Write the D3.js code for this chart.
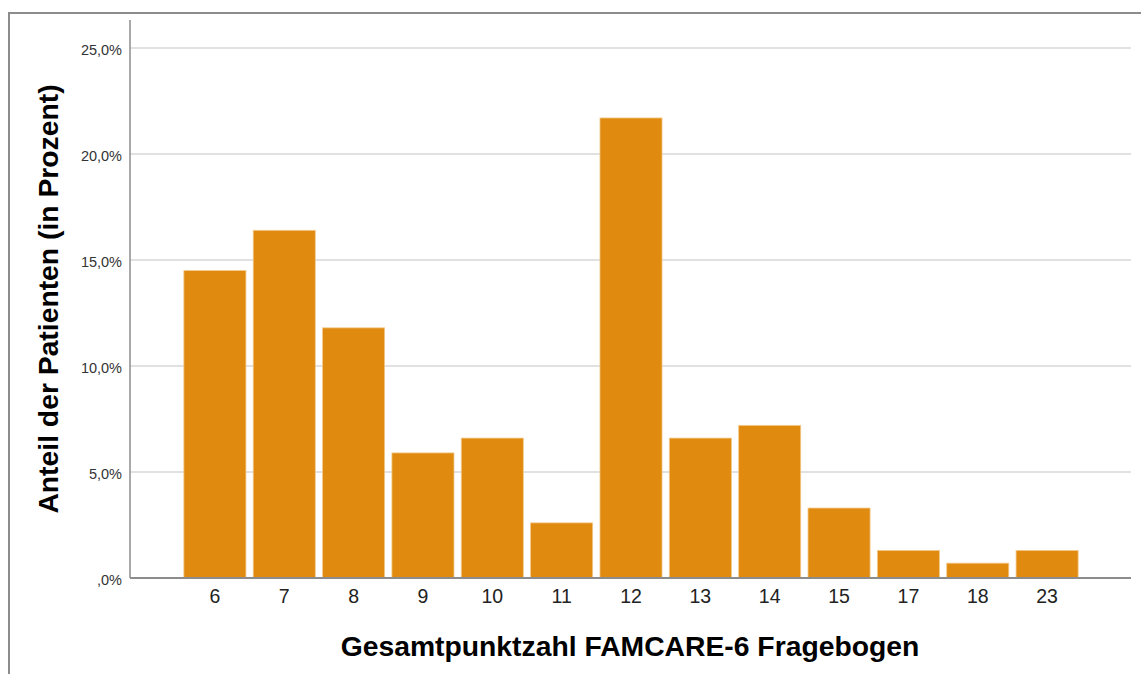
<!DOCTYPE html>
<html>
<head>
<meta charset="utf-8">
<style>
  body { margin: 0; background: #fff; }
  svg { display: block; font-family: "Liberation Sans", Arial, sans-serif; }
</style>
</head>
<body>
<svg id="chart" width="1141" height="674"></svg>
<script src="https://cdn.jsdelivr.net/npm/d3@7"></script>
<script>

// Gesamtpunktzahl FAMCARE-6 -> Anteil der Patienten in %
var scores = ["6", "7", "8", "9", "10", "11", "12", "13", "14", "15", "17", "18", "23"];
var percents = [14.5, 16.4, 11.8, 5.9, 6.6, 2.6, 21.7, 6.6, 7.2, 3.3, 1.3, 0.7, 1.3];
var yTicks = [0, 5, 10, 15, 20, 25];

var svg = d3.select("#chart"),
    plotLeft = 130, plotRight = 1131, plotTop = 20, plotBottom = 578;

// outer frame (only top and left edges show in the picture)
svg.append("rect")
    .attr("x", 9).attr("y", 13)
    .attr("width", 1160).attr("height", 700)
    .attr("fill", "none")
    .attr("stroke", "#8c8c8c")
    .attr("stroke-width", 2);

var x = d3.scaleBand()
    .domain(scores)
    .range([180.4, 1081.6])
    .paddingInner(0.105)
    .paddingOuter(0.05);

var y = d3.scaleLinear()
    .domain([0, 25])
    .range([plotBottom, 48]);

function fmt(d) {
  return d === 0 ? ",0%" : d.toFixed(1).replace(".", ",") + "%";
}

// gridlines
svg.append("g")
  .selectAll("line")
  .data(yTicks.filter(function(d) { return d > 0; }))
  .enter().append("line")
    .attr("x1", plotLeft).attr("x2", plotRight)
    .attr("y1", function(d) { return y(d); })
    .attr("y2", function(d) { return y(d); })
    .attr("stroke", "#c4c4c4")
    .attr("stroke-width", 1.2);

// y axis
var yAxis = svg.append("g")
    .attr("transform", "translate(" + plotLeft + ",0)")
    .call(d3.axisLeft(y).tickValues(yTicks).tickFormat(fmt).tickSize(0).tickPadding(8));
yAxis.select(".domain").remove();
yAxis.selectAll("text")
    .attr("font-family", "Liberation Sans, Arial, sans-serif")
    .attr("font-size", 14.5)
    .attr("fill", "#333")
    .attr("dy", "0.42em");

svg.append("line")
    .attr("x1", plotLeft).attr("x2", plotLeft)
    .attr("y1", plotTop).attr("y2", plotBottom)
    .attr("stroke", "#8c8c8c")
    .attr("stroke-width", 1.5);

// bars
svg.append("g")
  .selectAll("rect")
  .data(percents)
  .enter().append("rect")
    .attr("x", function(d, i) { return x(scores[i]); })
    .attr("y", function(d) { return y(d); })
    .attr("width", x.bandwidth())
    .attr("height", function(d) { return plotBottom - y(d); })
    .attr("fill", "#e08a0f")
    .attr("stroke", "#f3c98c")
    .attr("stroke-width", 0.8);

// x axis
var xAxis = svg.append("g")
    .attr("transform", "translate(0," + plotBottom + ")")
    .call(d3.axisBottom(x).tickSize(0).tickPadding(11));
xAxis.select(".domain").remove();
xAxis.selectAll("text")
    .attr("font-family", "Liberation Sans, Arial, sans-serif")
    .attr("font-size", 19.5)
    .attr("fill", "#222");

svg.append("line")
    .attr("x1", plotLeft).attr("x2", plotRight)
    .attr("y1", plotBottom).attr("y2", plotBottom)
    .attr("stroke", "#8c8c8c")
    .attr("stroke-width", 1.8);

// axis titles
svg.append("text")
    .attr("transform", "translate(58," + 299 + ") rotate(-90)")
    .attr("text-anchor", "middle")
    .attr("font-size", 28.3)
    .attr("font-weight", "bold")
    .attr("fill", "#000")
    .text("Anteil der Patienten (in Prozent)");

svg.append("text")
    .attr("x", 630)
    .attr("y", 656)
    .attr("text-anchor", "middle")
    .attr("font-size", 28.3)
    .attr("font-weight", "bold")
    .attr("fill", "#000")
    .text("Gesamtpunktzahl FAMCARE-6 Fragebogen");

</script>
</body>
</html>
